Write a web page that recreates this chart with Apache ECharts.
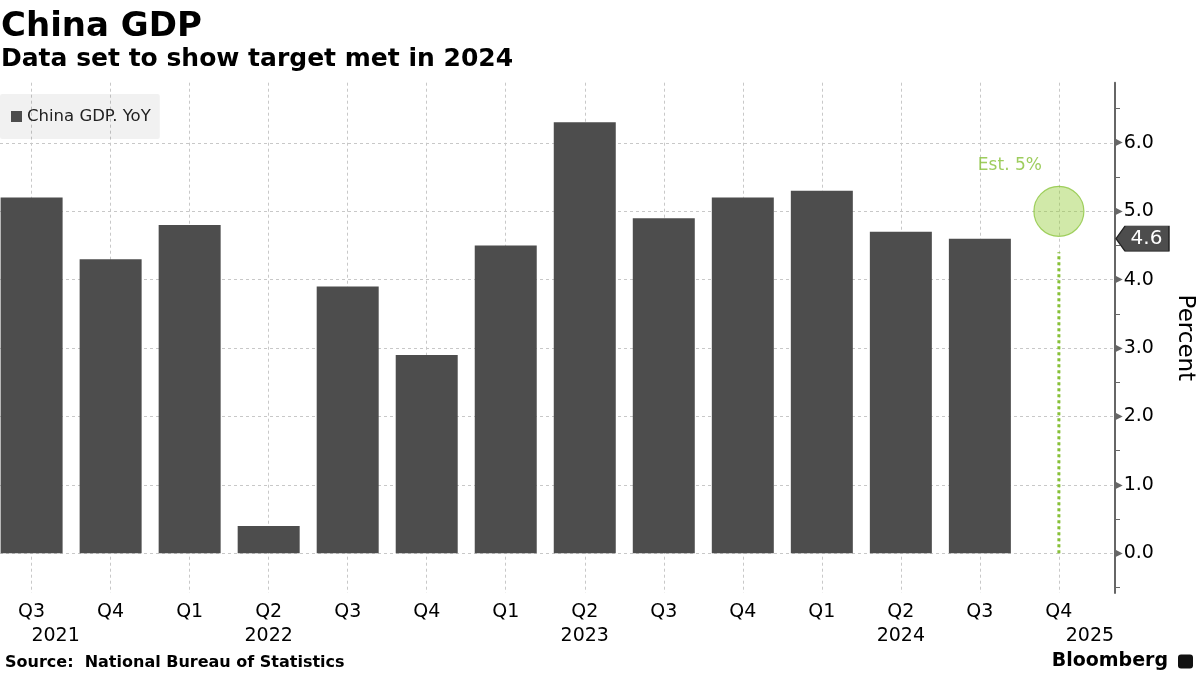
<!DOCTYPE html>
<html>
<head>
<meta charset="utf-8">
<script src="https://cdn.jsdelivr.net/npm/echarts@6/dist/echarts.min.js"></script>
<style>
html,body{margin:0;padding:0;background:#fff;}
#chart{width:1200px;height:675px;}
</style>
</head>
<body>
<div id="chart"></div>
<script>
// ---- data ----
const categories = ['Q3','Q4','Q1','Q2','Q3','Q4','Q1','Q2','Q3','Q4','Q1','Q2','Q3','Q4'];
const yearLabels = ['2021','','','2022','','','','2023','','','','2024','','2025'];
const gdpYoY = [5.2, 4.3, 4.8, 0.4, 3.9, 2.9, 4.5, 6.3, 4.9, 5.2, 5.3, 4.7, 4.6];
const estimateValue = 5.0;
const estimateStem = [0, 4.4];
const yTickValues = [0, 1, 2, 3, 4, 5, 6];
const yHalfTickValues = [-0.5, 0.5, 1.5, 2.5, 3.5, 4.5, 5.5, 6.5];

// ---- build ----
const xIdx = categories.map((c, i) => i);
const estIdx = categories.length - 1;
const barData = gdpYoY.map((v, i) => [i, v]);
const lastValue = gdpYoY[gdpYoY.length - 1];
const X_MIN = -0.4, X_MAX = 13.71, Y_MIN = -0.58, Y_MAX = 6.88;
const FONT = 'DejaVu Sans';

const chart = echarts.init(document.getElementById('chart'));
const option = {
  backgroundColor: '#fff',
  animation: false,
  textStyle: { fontFamily: FONT },
  title: [
    { text: 'China GDP', left: 0, top: 0, padding: [10, 0, 0, 1],
      textStyle: { fontFamily: FONT, fontSize: 34, fontWeight: 'bold', color: '#000' } },
    { text: 'Data set to show target met in 2024', left: 0, top: 47, padding: [0, 0, 0, 1],
      textStyle: { fontFamily: FONT, fontSize: 25, fontWeight: 'bold', color: '#000' } },
    { text: 'Source:  National Bureau of Statistics', left: 5, top: 655, padding: 0,
      textStyle: { fontFamily: FONT, fontSize: 16, fontWeight: 'bold', color: '#000' } },
    { text: '{b|Bloomberg}{s| }{i|}', right: 7, top: 652, padding: 0,
      textStyle: { rich: {
        b: { fontFamily: FONT, fontSize: 19, fontWeight: 'bold', color: '#000' },
        s: { fontSize: 10, width: 10 },
        i: { width: 15, height: 14, backgroundColor: '#111', borderRadius: 3 }
      } } }
  ],
  legend: {
    data: ['China GDP. YoY'], left: 0, top: 94, icon: 'rect',
    itemWidth: 11, itemHeight: 11,
    padding: [14, 9, 14, 11],
    backgroundColor: 'rgba(0,0,0,0.055)', borderRadius: 2,
    textStyle: { fontFamily: FONT, fontSize: 16.5, color: '#222' }
  },
  grid: { left: 0, right: 85, top: 82.7, bottom: 82, containLabel: false, outerBoundsMode: 'none' },
  xAxis: {
    type: 'value', min: X_MIN, max: X_MAX,
    axisLine: { show: false },
    axisTick: { show: false, customValues: xIdx },
    splitLine: { show: true, lineStyle: { color: '#c8c8c8', type: [3, 3], width: 1 } },
    axisLabel: {
      customValues: xIdx, margin: 7,
      formatter: function (v) {
        const i = Math.round(v);
        const y = yearLabels[i] || ' ';
        const st = i === 0 ? 'y0' : (i === categories.length - 1 ? 'yN' : 'y');
        return '{q|' + categories[i] + '}\n{' + st + '|' + y + '}';
      },
      rich: {
        q: { fontFamily: FONT, fontSize: 19, lineHeight: 24, color: '#000' },
        y: { fontFamily: FONT, fontSize: 19, lineHeight: 24, color: '#000' },
        y0: { fontFamily: FONT, fontSize: 19, lineHeight: 24, color: '#000', padding: [0, 0, 0, 48] },
        yN: { fontFamily: FONT, fontSize: 19, lineHeight: 24, color: '#000', padding: [0, 0, 0, 62] }
      }
    }
  },
  yAxis: [
    {
      type: 'value', position: 'right', min: Y_MIN, max: Y_MAX,
      name: 'Percent', nameLocation: 'middle', nameRotate: -90, nameGap: 58,
      nameTextStyle: { fontFamily: FONT, fontSize: 23, color: '#000' },
      axisLine: { show: true, onZero: false, lineStyle: { color: '#666', width: 2 } },
      axisTick: { show: false, customValues: yTickValues },
      splitLine: { show: true, lineStyle: { color: '#c8c8c8', type: [3, 3], width: 1 } },
      axisLabel: {
        customValues: yTickValues, margin: 0,
        formatter: function (v) { return '{t|\u25B6}{v|' + v.toFixed(1) + '}'; },
        rich: {
          t: { fontFamily: FONT, fontSize: 10, color: '#666', padding: [0, 1, 0, 0] },
          v: { fontFamily: FONT, fontSize: 19, color: '#000' }
        }
      }
    },
    {
      type: 'value', position: 'right', min: Y_MIN, max: Y_MAX,
      axisLine: { show: false, onZero: false },
      axisTick: { show: true, customValues: yHalfTickValues, length: 5, lineStyle: { color: '#666', width: 1 } },
      axisLabel: { show: false },
      splitLine: { show: false }
    }
  ],
  series: [
    {
      name: 'China GDP. YoY', type: 'bar', data: barData, barWidth: 62,
      itemStyle: { color: '#4d4d4d' },
      markPoint: {
        silent: true,
        symbol: 'path://M0,12.5 L9,0 L53,0 L53,25 L9,25 Z',
        symbolSize: [53, 25], symbolKeepAspect: false, symbolOffset: [27.5, 0],
        itemStyle: { color: '#4d4d4d', borderColor: '#222', borderWidth: 1 },
        label: { show: true, position: 'inside', offset: [4, 0], color: '#fff', fontFamily: FONT, fontSize: 20,
                 formatter: function () { return lastValue.toFixed(1); } },
        data: [{ coord: [X_MAX, lastValue] }]
      }
    },
    {
      name: 'stem', type: 'line', data: estimateStem.map(v => [estIdx, v]),
      symbol: 'none', silent: true,
      lineStyle: { color: '#86c036', width: 3, type: 'dotted' }
    },
    {
      name: 'Est', type: 'scatter', data: [[estIdx, estimateValue]], symbolSize: 50, silent: true,
      itemStyle: { color: 'rgba(150,205,60,0.55)', borderColor: '#8cc63f', borderWidth: 1.2 },
      label: { show: true, position: 'top', distance: 6, offset: [-49, -6], color: '#86c036',
               fontFamily: FONT, fontSize: 17, formatter: 'Est. 5%' }
    }
  ]
};
chart.setOption(option);
</script>
</body>
</html>
